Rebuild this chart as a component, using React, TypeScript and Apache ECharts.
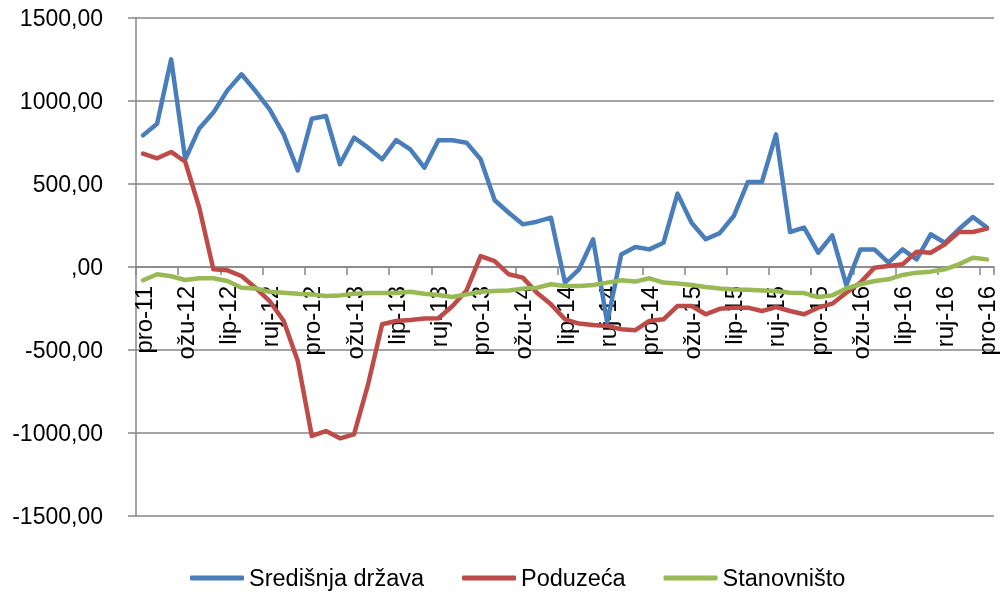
import React, { useEffect, useRef } from "react";
import * as echarts from "echarts";

const categories: string[] = [
  "pro-11",
  "sij-12", "velj-12", "ožu-12", "tra-12", "svi-12", "lip-12", "srp-12", "kol-12", "ruj-12", "lis-12", "stu-12", "pro-12",
  "sij-13", "velj-13", "ožu-13", "tra-13", "svi-13", "lip-13", "srp-13", "kol-13", "ruj-13", "lis-13", "stu-13", "pro-13",
  "sij-14", "velj-14", "ožu-14", "tra-14", "svi-14", "lip-14", "srp-14", "kol-14", "ruj-14", "lis-14", "stu-14", "pro-14",
  "sij-15", "velj-15", "ožu-15", "tra-15", "svi-15", "lip-15", "srp-15", "kol-15", "ruj-15", "lis-15", "stu-15", "pro-15",
  "sij-16", "velj-16", "ožu-16", "tra-16", "svi-16", "lip-16", "srp-16", "kol-16", "ruj-16", "lis-16", "stu-16", "pro-16",
];

const sredisnjaDrzava: number[] = [
  793, 863, 1251, 649, 835, 930, 1064, 1161, 1060, 950, 799, 582, 893,
  910, 619, 779, 719, 649, 765, 709, 598, 763, 763, 749, 649,
  402, 327, 257, 273, 297, -94, -14, 167, -335, 76, 120, 106,
  146, 442, 267, 167, 204, 307, 512, 512, 799, 211, 237, 86,
  191, -109, 106, 106, 26, 106, 46, 197, 146, 227, 301, 237,
];

const poduzeca: number[] = [
  683, 655, 693, 634, 357, -14, -20, -54, -125, -205, -325, -566, -1018,
  -988, -1032, -1008, -707, -345, -325, -319, -310, -309, -235, -141, 66,
  36, -44, -64, -155, -225, -315, -341, -349, -355, -375, -381, -325,
  -315, -235, -235, -285, -252, -245, -245, -265, -241, -265, -285, -245,
  -221, -155, -94, -4, 6, 16, 92, 86, 137, 211, 211, 231,
];

const stanovnistvo: number[] = [
  -80, -44, -56, -78, -68, -68, -84, -125, -129, -149, -155, -161, -165,
  -175, -171, -161, -157, -157, -157, -149, -161, -169, -181, -165, -149,
  -145, -141, -131, -125, -104, -114, -114, -108, -94, -80, -88, -68,
  -94, -100, -108, -120, -129, -135, -137, -141, -145, -155, -157, -181,
  -171, -129, -104, -84, -74, -48, -34, -28, -14, 16, 56, 46,
];

const seriesNames = ["Središnja država", "Poduzeća", "Stanovništo"];
const seriesColors = ["#4A7EBB", "#BE4B48", "#98B954"];

const FONT = "Liberation Sans, Arial, sans-serif";

export default function App() {
  const ref = useRef<HTMLDivElement>(null);

  useEffect(() => {
    if (!ref.current) return;
    const chart = echarts.init(ref.current, undefined, { renderer: "svg" });
    const data = [sredisnjaDrzava, poduzeca, stanovnistvo];
    chart.setOption({
      animation: false,
      textStyle: { fontFamily: FONT },
      grid: { left: 136, right: 7, top: 18, bottom: 76, containLabel: false },
      legend: {
        left: 185,
        top: 561,
        itemWidth: 54,
        itemHeight: 5,
        itemGap: 38,
        icon: "roundRect",
        textStyle: { fontSize: 23.5, color: "#000", fontFamily: FONT },
        data: seriesNames,
      },
      xAxis: {
        type: "category",
        data: categories,
        boundaryGap: true,
        position: "bottom",
        offset: -249,
        z: 0,
        axisLine: { onZero: false, lineStyle: { color: "#868686", width: 1.5 } },
        axisTick: {
          show: true,
          interval: 2,
          alignWithLabel: false,
          length: 8,
          inside: false,
          lineStyle: { color: "#868686", width: 1.5 },
        },
        axisLabel: {
          interval: 2,
          rotate: 90,
          margin: 19,
          fontSize: 24,
          color: "#000",
          fontFamily: FONT,
        },
        splitLine: { show: false },
      },
      yAxis: {
        type: "value",
        min: -1500,
        max: 1500,
        interval: 500,
        z: 0,
        axisLine: { show: true, lineStyle: { color: "#868686", width: 1.5 } },
        axisTick: { show: true, length: 8, lineStyle: { color: "#868686", width: 1.5 } },
        axisLabel: {
          margin: 33,
          fontSize: 23,
          color: "#000",
          fontFamily: FONT,
          formatter: (v: number) => {
            if (v === 0) return ",00";
            return v.toFixed(2).replace(".", ",");
          },
        },
        splitLine: { show: true, lineStyle: { color: "#868686", width: 1.5 } },
      },
      series: seriesNames.map((name, i) => ({
        name,
        type: "line",
        z: 10,
        data: data[i],
        symbol: "none",
        smooth: false,
        lineStyle: { width: 4.5, color: seriesColors[i], cap: "round", join: "round" },
        itemStyle: { color: seriesColors[i] },
      })),
    });
    return () => chart.dispose();
  }, []);

  return (
    <div
      ref={ref}
      style={{ position: "fixed", left: 0, top: 0, width: 1001, height: 592 }}
    />
  );
}
